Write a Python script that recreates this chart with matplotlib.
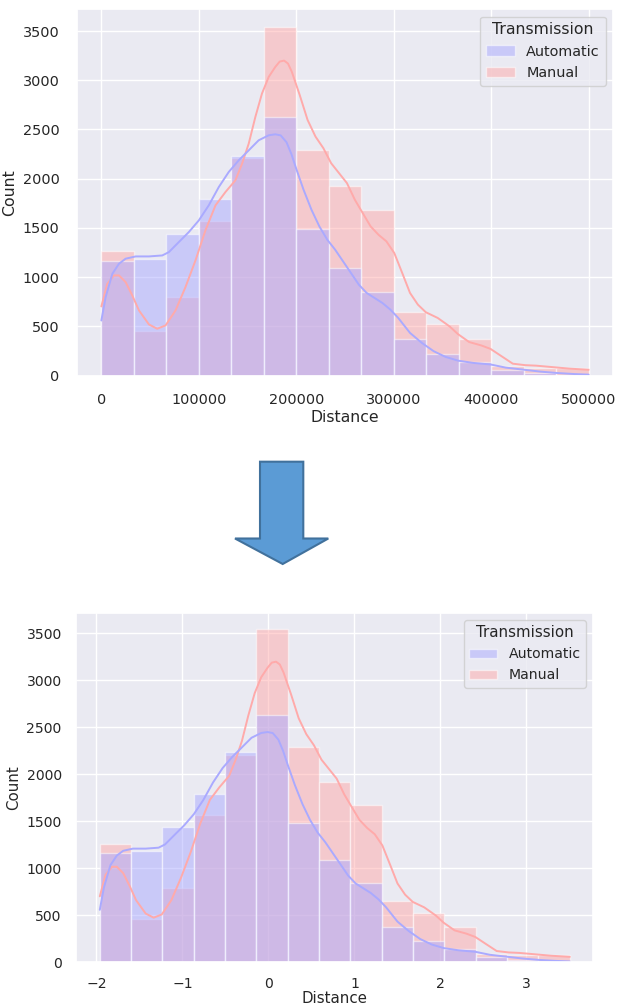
import numpy as np
import matplotlib.pyplot as plt
import seaborn as sns
from matplotlib.patches import Patch, Polygon

sns.set_theme(style='darkgrid')
plt.rcParams['font.family'] = ['DejaVu Sans']

# 15 equal bins over the distance range
bin_edges = np.linspace(0, 500000, 16)
auto_counts = [1167, 1184, 1441, 1792, 2235, 2631, 1488, 1092, 849, 372, 223, 140, 54, 27, 8]
manual_counts = [1261, 456, 795, 1566, 2208, 3544, 2296, 1921, 1677, 649, 524, 375, 92, 80, 78]

# kde curves (count scale)
auto_kde_x = [0, 4400, 11300, 18100, 24900, 35200, 48800, 62500, 69300, 79500,
              89800, 100000, 110200, 120500, 130700, 141000, 151200, 161400, 171700, 178500,
              184000, 190000, 195000, 200000, 207500, 215600, 223700, 231800, 239900, 248000,
              256100, 264200, 272200, 280300, 288400, 296500, 304600, 316700, 328900, 341000,
              353200, 366000, 381500, 399400, 415000, 432600, 450000, 466700, 485000, 500000]
auto_kde_y = [559, 797, 1034, 1136, 1187, 1210, 1210, 1220, 1254, 1356,
              1458, 1576, 1729, 1915, 2068, 2187, 2288, 2390, 2441, 2451,
              2440, 2370, 2250, 2100, 1887, 1684, 1515, 1380, 1278, 1160,
              1042, 923, 839, 788, 737, 670, 585, 433, 331, 247,
              189, 151, 128, 112, 80, 60, 40, 26, 15, 9]

manual_kde_x = [0, 6100, 13000, 18100, 24900, 31700, 38600, 48800, 57300, 65900,
                76100, 86300, 96600, 106800, 117100, 127300, 137500, 144400, 151200, 158000,
                164800, 171700, 178500, 183000, 187500, 191500, 195400, 203500, 211600, 219700,
                227800, 235800, 243900, 252000, 260100, 268200, 276300, 284400, 292500, 300600,
                308700, 316700, 324800, 332900, 345100, 357200, 366000, 377400, 390000, 399400,
                410000, 422200, 435000, 446200, 463200, 480000, 500000]
manual_kde_y = [702, 932, 1017, 1017, 949, 814, 661, 519, 475, 509,
                661, 898, 1170, 1475, 1729, 1864, 1983, 2153, 2356, 2627,
                2865, 3034, 3136, 3190, 3200, 3170, 3087, 2851, 2597, 2428,
                2310, 2157, 2056, 1955, 1786, 1650, 1515, 1430, 1363, 1244,
                1042, 839, 720, 643, 585, 500, 420, 340, 305, 270,
                200, 120, 105, 100, 85, 70, 58]

# mean / std used for the standardised version
dist_mean = 179400
dist_std = 91500

palette = sns.color_palette('bwr', 2)
auto_color, manual_color = palette[0], palette[1]

W, H = 618, 1007
fig = plt.figure(figsize=(W / 100, H / 100), dpi=100)


def draw_panel(ax, to_x, tick_size, label_size, tick_pad, xlabel_pad):
    edges = to_x(bin_edges)
    widths = np.diff(edges)
    ax.bar(edges[:-1], manual_counts, width=widths, align='edge', color=manual_color,
           alpha=0.5, edgecolor='white', linewidth=1)
    ax.bar(edges[:-1], auto_counts, width=widths, align='edge', color=auto_color,
           alpha=0.5, edgecolor='white', linewidth=1)
    ax.plot(to_x(np.array(manual_kde_x)), manual_kde_y, color=manual_color, lw=1.4)
    ax.plot(to_x(np.array(auto_kde_x)), auto_kde_y, color=auto_color, lw=1.4)
    ax.set_yticks(range(0, 4000, 500))
    ax.tick_params(labelsize=tick_size, pad=tick_pad)
    ax.set_xlabel('Distance', fontsize=label_size, labelpad=xlabel_pad)
    ax.set_ylabel('Count', fontsize=label_size)
    handles = [Patch(facecolor=auto_color, edgecolor='white', alpha=0.5),
               Patch(facecolor=manual_color, edgecolor='white', alpha=0.5)]
    ax.legend(handles, ['Automatic', 'Manual'], title='Transmission', loc='upper right',
              fontsize=tick_size, title_fontsize=label_size)


# raw distance
ax1 = fig.add_axes([77 / W, 1 - 375.5 / H, 536 / W, 366.2 / H])
draw_panel(ax1, lambda d: d, 10.4, 11.3, 6.6, 2.5)

# standardised distance
ax2 = fig.add_axes([76.3 / W, 1 - 962.3 / H, 517 / W, 349.6 / H])
draw_panel(ax2, lambda d: (d - dist_mean) / dist_std, 10.1, 10.8, 4.5, 0)

# arrow between the two panels
arrow_px = [(260, 461.7), (303.3, 461.7), (303.3, 538.5), (328.3, 538.5),
            (282.7, 564), (235, 538.5), (260, 538.5)]
arrow = Polygon([(x / W, 1 - y / H) for x, y in arrow_px], closed=True,
                transform=fig.transFigure, facecolor='#5B9BD5', edgecolor='#41719C', lw=1.5)
fig.patches.append(arrow)

fig.savefig('out.png', dpi=100)
